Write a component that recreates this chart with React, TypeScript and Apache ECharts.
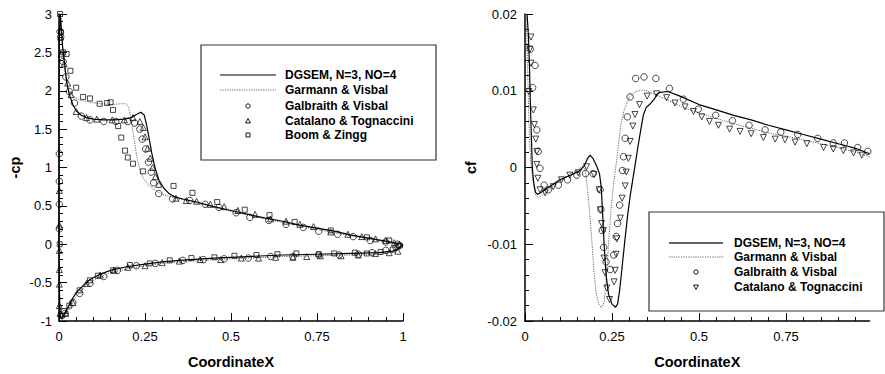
import React, { useEffect, useRef } from "react";
import * as echarts from "echarts";

// ---------- Left panel: pressure coefficient (-cp) ----------
const cpTicksX = [0, 0.25, 0.5, 0.75, 1];
const cpTicksY = [-1, -0.5, 0, 0.5, 1, 1.5, 2, 2.5, 3];

const dgsemCp: number[][] = [
  [1.0, 0.0], [0.99, -0.05], [0.97, -0.09], [0.93, -0.11], [0.85, -0.12], [0.75, -0.13],
  [0.65, -0.14], [0.55, -0.16], [0.45, -0.18], [0.35, -0.21], [0.3, -0.23], [0.25, -0.26],
  [0.2, -0.29], [0.15, -0.34], [0.12, -0.39], [0.09, -0.46], [0.07, -0.54], [0.05, -0.63],
  [0.035, -0.74], [0.025, -0.83], [0.015, -0.92], [0.008, -0.97], [0.004, -0.95], [0.002, -0.8],
  [0.001, -0.5], [0.0, 0.0], [0.0, 1.0], [0.0, 2.0], [0.001, 2.7], [0.004, 3.0],
  [0.006, 2.85], [0.01, 2.6], [0.015, 2.4], [0.02, 2.2], [0.025, 2.05], [0.03, 1.95],
  [0.04, 1.82], [0.05, 1.74], [0.065, 1.68], [0.08, 1.65], [0.1, 1.63], [0.13, 1.62],
  [0.16, 1.62], [0.19, 1.63], [0.21, 1.65], [0.225, 1.69], [0.238, 1.72], [0.248, 1.68],
  [0.255, 1.55], [0.262, 1.38], [0.27, 1.18], [0.28, 0.98], [0.29, 0.84], [0.305, 0.73],
  [0.32, 0.66], [0.335, 0.62], [0.36, 0.59], [0.4, 0.55], [0.45, 0.49], [0.5, 0.44],
  [0.55, 0.39], [0.6, 0.34], [0.65, 0.3], [0.7, 0.25], [0.75, 0.21], [0.8, 0.17],
  [0.85, 0.12], [0.9, 0.08], [0.95, 0.04], [0.98, 0.015], [1.0, 0.0],
];

const garmannCp: number[][] = [
  [1.0, -0.01], [0.97, -0.1], [0.93, -0.13], [0.85, -0.14], [0.75, -0.15], [0.65, -0.16],
  [0.55, -0.18], [0.45, -0.2], [0.35, -0.23], [0.3, -0.25], [0.25, -0.28], [0.2, -0.32],
  [0.15, -0.37], [0.12, -0.42], [0.09, -0.5], [0.07, -0.58], [0.05, -0.68], [0.035, -0.79],
  [0.025, -0.88], [0.015, -0.96], [0.008, -0.99], [0.004, -0.95], [0.001, -0.5], [0.0, 0.5],
  [0.0, 2.0], [0.002, 2.8], [0.004, 3.0], [0.008, 2.7], [0.012, 2.45], [0.018, 2.22],
  [0.025, 2.05], [0.03, 1.99], [0.04, 1.93], [0.06, 1.88], [0.09, 1.85], [0.12, 1.83],
  [0.15, 1.82], [0.18, 1.83], [0.195, 1.83], [0.203, 1.78], [0.21, 1.62], [0.218, 1.38],
  [0.226, 1.14], [0.235, 0.97], [0.245, 0.86], [0.26, 0.77], [0.28, 0.7], [0.3, 0.65],
  [0.33, 0.61], [0.36, 0.58], [0.4, 0.54], [0.5, 0.43], [0.6, 0.33], [0.7, 0.24],
  [0.8, 0.15], [0.9, 0.07], [0.95, 0.03], [1.0, -0.01],
];

const galbraithCp: number[][] = [
  [0.003, 2.77], [0.005, 2.7], [0.012, 2.38], [0.02, 2.18], [0.03, 1.99], [0.045, 1.84],
  [0.065, 1.67], [0.09, 1.62], [0.13, 1.6], [0.165, 1.6], [0.2, 1.6], [0.22, 1.58],
  [0.235, 1.5], [0.242, 1.37], [0.252, 1.24], [0.26, 1.07], [0.268, 0.94], [0.275, 0.8],
  [0.29, 0.66], [0.33, 0.59], [0.38, 0.57], [0.425, 0.52], [0.465, 0.48], [0.515, 0.41],
  [0.555, 0.35], [0.61, 0.31], [0.66, 0.26], [0.71, 0.22], [0.755, 0.17], [0.81, 0.13],
  [0.855, 0.1], [0.905, 0.05], [0.95, 0.03], [0.985, 0.0], [0.99, -0.02],
  [0.98, -0.04], [0.95, -0.08], [0.91, -0.11], [0.87, -0.13], [0.815, -0.14], [0.755, -0.14],
  [0.68, -0.16], [0.615, -0.16], [0.55, -0.18], [0.48, -0.19], [0.42, -0.2], [0.36, -0.21],
  [0.28, -0.25], [0.225, -0.28], [0.17, -0.34], [0.13, -0.42], [0.09, -0.51], [0.06, -0.64],
  [0.04, -0.76], [0.018, -0.9],
  [0.001, 1.18], [0.001, 0.82], [0.001, 0.52], [0.001, 0.2],
];

const catalanoCp: number[][] = [
  [0.005, 2.7], [0.006, 2.48], [0.015, 2.35], [0.025, 2.1], [0.035, 1.95], [0.05, 1.73],
  [0.08, 1.65], [0.11, 1.63], [0.155, 1.62], [0.19, 1.62], [0.215, 1.65], [0.235, 1.6],
  [0.245, 1.52], [0.25, 1.4], [0.258, 1.25], [0.265, 1.12], [0.272, 1.0], [0.28, 0.88],
  [0.29, 0.78], [0.34, 0.6], [0.37, 0.57], [0.4, 0.56], [0.44, 0.52], [0.48, 0.49],
  [0.52, 0.44], [0.57, 0.39], [0.615, 0.33], [0.66, 0.3], [0.7, 0.26], [0.74, 0.23],
  [0.79, 0.16], [0.84, 0.13], [0.88, 0.1], [0.92, 0.07], [0.95, 0.05], [0.975, 0.02],
  [0.99, 0.0],
  [0.985, -0.09], [0.96, -0.11], [0.92, -0.12], [0.87, -0.14], [0.82, -0.15], [0.76, -0.15],
  [0.72, -0.16], [0.68, -0.17], [0.63, -0.17], [0.58, -0.18], [0.53, -0.18], [0.47, -0.2],
  [0.41, -0.2], [0.35, -0.22], [0.3, -0.24], [0.25, -0.28], [0.2, -0.3], [0.16, -0.34],
  [0.12, -0.4], [0.08, -0.51], [0.04, -0.76], [0.02, -0.9],
  [0.001, 0.7], [0.001, 0.25], [0.001, -0.08], [0.001, -0.33], [0.001, -0.52], [0.001, -0.8],
  [0.003, -0.9],
];

const boomCp: number[][] = [
  [0.003, 3.0], [0.006, 2.76], [0.012, 2.5], [0.022, 2.48], [0.033, 2.26], [0.05, 2.04],
  [0.07, 1.92], [0.09, 1.9], [0.118, 1.83], [0.14, 1.84], [0.15, 1.85], [0.157, 1.75],
  [0.172, 1.54], [0.181, 1.39], [0.192, 1.22], [0.2, 1.13], [0.215, 1.05], [0.244, 0.95],
  [0.333, 0.76], [0.388, 0.67], [0.46, 0.55], [0.54, 0.45], [0.612, 0.38], [0.685, 0.29],
  [0.79, 0.18], [0.895, 0.09], [0.96, 0.05],
  [0.97, -0.07], [0.935, -0.1], [0.895, -0.12], [0.86, -0.11], [0.8, -0.12], [0.755, -0.13],
  [0.69, -0.12], [0.635, -0.13], [0.574, -0.14], [0.51, -0.15], [0.452, -0.17], [0.385, -0.18],
  [0.322, -0.21], [0.264, -0.25], [0.206, -0.27], [0.157, -0.34], [0.113, -0.41], [0.09, -0.47],
  [0.06, -0.6], [0.03, -0.8], [0.015, -0.87], [0.008, -0.93],
  [0.002, 0.0],
];

// ---------- Right panel: skin friction (cf) ----------
const cfTicksX = [0, 0.25, 0.5, 0.75];
const cfMinorX = [0.05, 0.1, 0.15, 0.2, 0.3, 0.35, 0.4, 0.45, 0.55, 0.6, 0.65, 0.7, 0.8, 0.85, 0.9, 0.95];
const cfTicksY = [-0.02, -0.01, 0, 0.01, 0.02];

const dgsemCf: number[][] = [
  [0.006, 0.02], [0.01, 0.017], [0.013, 0.013], [0.015, 0.009], [0.017, 0.006], [0.019, 0.003],
  [0.021, 0.0], [0.025, -0.002], [0.03, -0.0032], [0.036, -0.0035], [0.045, -0.0033],
  [0.06, -0.0028], [0.08, -0.0022], [0.1, -0.0016], [0.13, -0.001], [0.155, -0.0005],
  [0.17, 0.0002], [0.18, 0.0012], [0.187, 0.0016], [0.195, 0.0012], [0.205, 0.0003],
  [0.214, -0.0008], [0.219, -0.0025], [0.223, -0.006], [0.228, -0.0105], [0.233, -0.014],
  [0.24, -0.0165], [0.25, -0.0178], [0.26, -0.0182], [0.266, -0.0178], [0.272, -0.016],
  [0.279, -0.013], [0.287, -0.0095], [0.295, -0.0062], [0.303, -0.0035], [0.311, -0.0012],
  [0.318, 0.0008], [0.325, 0.0028], [0.333, 0.005], [0.34, 0.0068], [0.348, 0.0078],
  [0.36, 0.0083], [0.37, 0.0088], [0.38, 0.0096], [0.39, 0.0098], [0.41, 0.0099],
  [0.44, 0.0094], [0.5, 0.0082], [0.55, 0.0075], [0.6, 0.0068], [0.65, 0.0062],
  [0.7, 0.0055], [0.75, 0.0049], [0.8, 0.0043], [0.85, 0.0037], [0.9, 0.0031],
  [0.95, 0.0025], [0.99, 0.0018],
];

const garmannCf: number[][] = [
  [0.003, 0.02], [0.006, 0.016], [0.009, 0.01], [0.012, 0.005], [0.016, 0.001], [0.022, -0.0015],
  [0.03, -0.0035], [0.038, -0.004], [0.05, -0.0036], [0.07, -0.0028], [0.1, -0.0018],
  [0.13, -0.0008], [0.155, -0.0002], [0.168, 0.0003], [0.174, -0.0005], [0.18, -0.003],
  [0.186, -0.006], [0.192, -0.0095], [0.198, -0.0135], [0.205, -0.0165], [0.212, -0.0178],
  [0.22, -0.0183], [0.228, -0.0175], [0.234, -0.014], [0.24, -0.01], [0.247, -0.0055],
  [0.255, -0.002], [0.265, 0.0015], [0.275, 0.0055], [0.285, 0.0075], [0.3, 0.0092],
  [0.315, 0.0098], [0.333, 0.0101], [0.35, 0.01], [0.375, 0.0095], [0.4, 0.009],
  [0.45, 0.0079], [0.5, 0.0071], [0.55, 0.0064], [0.6, 0.0057], [0.65, 0.0051],
  [0.7, 0.0045], [0.75, 0.0041], [0.8, 0.0036], [0.85, 0.0031], [0.9, 0.0026],
  [0.95, 0.002], [0.99, 0.0014],
];

const galbraithCf: number[][] = [
  [0.015, 0.0154], [0.029, 0.0133], [0.022, 0.0104], [0.034, 0.0049], [0.038, 0.0021],
  [0.043, -0.0001], [0.055, -0.0023], [0.067, -0.0029], [0.096, -0.0023], [0.122, -0.0016],
  [0.149, -0.001], [0.174, -0.0008], [0.196, -0.0008], [0.216, -0.0029], [0.218, -0.0055],
  [0.222, -0.0082], [0.226, -0.0104], [0.233, -0.0123], [0.245, -0.0133], [0.255, -0.0114],
  [0.262, -0.009], [0.266, -0.0073], [0.272, -0.0049], [0.28, -0.0004], [0.283, 0.0014],
  [0.288, 0.0038], [0.294, 0.0066], [0.302, 0.0092], [0.318, 0.0116], [0.342, 0.0118],
  [0.376, 0.0116], [0.415, 0.0103], [0.455, 0.0089], [0.498, 0.0076], [0.548, 0.0068],
  [0.596, 0.0061], [0.644, 0.0055], [0.69, 0.0049], [0.735, 0.0046], [0.784, 0.0043],
  [0.841, 0.0038], [0.886, 0.0032], [0.918, 0.0032], [0.956, 0.0026], [0.985, 0.0021],
];

const catalanoCf: number[][] = [
  [0.017, 0.017], [0.014, 0.0154], [0.017, 0.0136], [0.011, 0.0099], [0.024, 0.0075],
  [0.027, 0.0056], [0.031, 0.0037], [0.034, 0.0021], [0.034, 0.0004], [0.037, -0.0014],
  [0.043, -0.0029], [0.058, -0.0033], [0.081, -0.0025], [0.105, -0.0016], [0.129, -0.001],
  [0.153, -0.0007], [0.177, 0.0001], [0.198, -0.0009], [0.213, -0.0029], [0.217, -0.0055],
  [0.22, -0.0073], [0.225, -0.0082], [0.227, -0.0118], [0.23, -0.0137], [0.235, -0.0157],
  [0.243, -0.0172], [0.256, -0.0149], [0.259, -0.0134], [0.262, -0.0113], [0.264, -0.0093],
  [0.274, -0.0066], [0.279, -0.004], [0.288, -0.0024], [0.291, -0.0006], [0.297, 0.0012],
  [0.302, 0.0034], [0.31, 0.0054], [0.316, 0.0069], [0.329, 0.0082], [0.351, 0.0093],
  [0.378, 0.0096], [0.407, 0.0091], [0.431, 0.0084], [0.46, 0.0079], [0.484, 0.0073],
  [0.508, 0.0066], [0.53, 0.006], [0.556, 0.0055], [0.588, 0.005], [0.618, 0.0047],
  [0.65, 0.0044], [0.685, 0.0039], [0.719, 0.0037], [0.747, 0.0036], [0.776, 0.0033],
  [0.81, 0.0031], [0.858, 0.0026], [0.886, 0.0024], [0.915, 0.0022], [0.944, 0.0019],
  [0.968, 0.0016],
];

const cpLegend = ["DGSEM, N=3, NO=4", "Garmann & Visbal", "Galbraith & Visbal", "Catalano & Tognaccini", "Boom & Zingg"];
const cfLegend = ["DGSEM, N=3, NO=4", "Garmann & Visbal", "Galbraith & Visbal", "Catalano & Tognaccini"];

const FONT = '"Liberation Sans", Arial, Helvetica, sans-serif';

function axisBase() {
  return {
    type: "value" as const,
    splitLine: { show: false },
    axisLine: { onZero: false, lineStyle: { color: "#000", width: 1.5 } },
    axisTick: { inside: true, length: 8, lineStyle: { color: "#000", width: 1 } },
    minorTick: { show: true, splitNumber: 5, length: 4, lineStyle: { color: "#000", width: 1 } },
    axisLabel: { color: "#000", fontSize: 13, fontFamily: FONT },
    nameTextStyle: { color: "#000", fontSize: 14.5, fontWeight: "bold" as const, fontFamily: FONT },
    nameLocation: "middle" as const,
  };
}

export default function App() {
  const ref = useRef<HTMLDivElement>(null);
  useEffect(() => {
    if (!ref.current) return;
    const chart = echarts.init(ref.current, null, { renderer: "svg" });
    const sym = { color: "transparent", borderColor: "#000", borderWidth: 0.9 };
    const legendText = (x: number, y: number, s: string) => ({
      type: "text", x, y,
      style: { text: s, fill: "#000", font: `bold 12px ${FONT}`, textVerticalAlign: "middle" },
    });
    const lineSample = (x1: number, x2: number, y: number, dotted: boolean, color: string, w: number) => ({
      type: "line",
      shape: { x1, y1: y, x2, y2: y },
      style: { stroke: color, lineWidth: w, lineDash: dotted ? [1.2, 1.2] : null },
    });
    const circle = (cx: number, cy: number) => ({
      type: "circle", shape: { cx, cy, r: 2.2 }, style: { fill: "none", stroke: "#000", lineWidth: 0.9 },
    });
    const tri = (cx: number, cy: number, down: boolean) => ({
      type: "polygon",
      shape: { points: down ? [[cx - 2.5, cy - 2], [cx + 2.5, cy - 2], [cx, cy + 2.5]] : [[cx - 2.5, cy + 2], [cx + 2.5, cy + 2], [cx, cy - 2.5]] },
      style: { fill: "none", stroke: "#000", lineWidth: 0.9 },
    });
    const square = (cx: number, cy: number) => ({
      type: "rect", shape: { x: cx - 2, y: cy - 2, width: 4, height: 4 }, style: { fill: "none", stroke: "#000", lineWidth: 0.9 },
    });

    const cpRows = [75, 90, 106, 121, 135];
    const cfRows = [243, 257, 272, 287];

    chart.setOption({
      animation: false,
      textStyle: { fontFamily: FONT },
      grid: [
        { left: 59, top: 14, width: 344, height: 313 },
        { left: 525, top: 14, width: 344.5, height: 313 },
      ],
      xAxis: [
        { ...axisBase(), gridIndex: 0, position: "bottom", min: cpTicksX[0], max: cpTicksX[cpTicksX.length - 1], interval: 0.25,
          name: "CoordinateX", nameGap: 33, axisLabel: { ...axisBase().axisLabel, margin: 9 } },
        { ...axisBase(), gridIndex: 1, position: "bottom", min: 0, max: 0.99,
          name: "CoordinateX", nameGap: 33,
          minorTick: { show: false },
          axisTick: { ...axisBase().axisTick, customValues: cfTicksX },
          axisLabel: { ...axisBase().axisLabel, margin: 9, customValues: cfTicksX } },
        { ...axisBase(), gridIndex: 1, position: "bottom", min: 0, max: 0.99,
          axisLine: { show: false, onZero: false },
          minorTick: { show: false },
          axisTick: { inside: true, length: 4, lineStyle: { color: "#000", width: 1 }, customValues: cfMinorX },
          axisLabel: { show: false } },
      ],
      yAxis: [
        { ...axisBase(), gridIndex: 0, min: cpTicksY[0], max: cpTicksY[cpTicksY.length - 1], interval: 0.5,
          name: "-cp", nameRotate: 90, nameGap: 37, axisLabel: { ...axisBase().axisLabel, margin: 7 } },
        { ...axisBase(), gridIndex: 1, min: cfTicksY[0], max: cfTicksY[cfTicksY.length - 1], interval: 0.01,
          name: "cf", nameRotate: 90, nameGap: 47, axisLabel: { ...axisBase().axisLabel, margin: 8 } },
      ],
      series: [
        { name: cpLegend[0], type: "line", xAxisIndex: 0, yAxisIndex: 0, data: dgsemCp, showSymbol: false,
          lineStyle: { color: "#000", width: 1.2 }, z: 3 },
        { name: cpLegend[1], type: "line", xAxisIndex: 0, yAxisIndex: 0, data: garmannCp, showSymbol: false,
          lineStyle: { color: "#666", width: 1, type: [1.2, 1.2] }, z: 2 },
        { name: cpLegend[2], type: "scatter", xAxisIndex: 0, yAxisIndex: 0, data: galbraithCp, symbol: "circle", symbolSize: 6.5, itemStyle: sym, z: 4 },
        { name: cpLegend[3], type: "scatter", xAxisIndex: 0, yAxisIndex: 0, data: catalanoCp, symbol: "triangle", symbolSize: 6, itemStyle: sym, z: 4 },
        { name: cpLegend[4], type: "scatter", xAxisIndex: 0, yAxisIndex: 0, data: boomCp, symbol: "rect", symbolSize: 5, itemStyle: sym, z: 4 },

        { name: cfLegend[0], type: "line", xAxisIndex: 1, yAxisIndex: 1, data: dgsemCf, showSymbol: false,
          lineStyle: { color: "#000", width: 1.2 }, z: 3 },
        { name: cfLegend[1], type: "line", xAxisIndex: 1, yAxisIndex: 1, data: garmannCf, showSymbol: false,
          lineStyle: { color: "#666", width: 1, type: [1.2, 1.2] }, z: 2 },
        { name: cfLegend[2], type: "scatter", xAxisIndex: 1, yAxisIndex: 1, data: galbraithCf, symbol: "circle", symbolSize: 6.5, itemStyle: sym, z: 4 },
        { name: cfLegend[3], type: "scatter", xAxisIndex: 1, yAxisIndex: 1, data: catalanoCf, symbol: "triangle", symbolRotate: 180, symbolSize: 6, itemStyle: sym, z: 4 },
      ],
      graphic: [
        { type: "rect", shape: { x: 201, y: 45, width: 235, height: 115 }, style: { fill: "#fff", stroke: "#333", lineWidth: 1.2 }, z: 10 },
        { ...lineSample(220, 276, cpRows[0], false, "#000", 1.2), z: 11 },
        { ...lineSample(220, 276, cpRows[1], true, "#666", 1), z: 11 },
        { ...circle(248, cpRows[2]), z: 11 },
        { ...tri(248, cpRows[3], false), z: 11 },
        { ...square(248, cpRows[4]), z: 11 },
        ...cpLegend.map((s, i) => ({ ...legendText(285, cpRows[i], s), z: 11 })),

        { type: "rect", shape: { x: 649, y: 212, width: 235, height: 99 }, style: { fill: "#fff", stroke: "#333", lineWidth: 1.2 }, z: 10 },
        { ...lineSample(669, 723, cfRows[0], false, "#666", 2), z: 11 },
        { ...lineSample(669, 723, cfRows[1], true, "#666", 1), z: 11 },
        { ...circle(696, cfRows[2]), z: 11 },
        { ...tri(696, cfRows[3], true), z: 11 },
        ...cfLegend.map((s, i) => ({ ...legendText(734, cfRows[i], s), z: 11 })),
      ],
    });
    return () => chart.dispose();
  }, []);
  return <div ref={ref} style={{ position: "fixed", left: 0, top: 0, width: 885, height: 374, background: "#fff" }} />;
}
